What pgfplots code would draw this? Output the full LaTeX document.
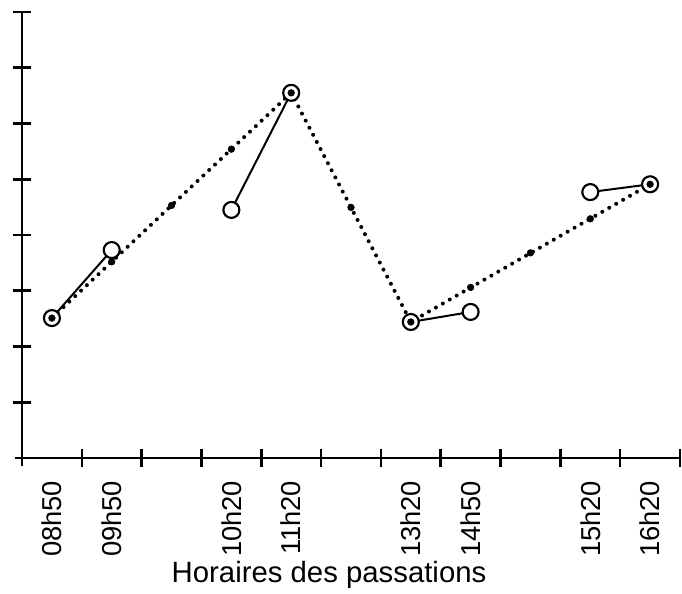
\documentclass[border=0pt]{standalone}
\usepackage{fontspec}
\setmainfont{Liberation Sans}
\usepackage{pgfplots}
\pgfplotsset{compat=1.18}
\begin{document}
\begin{tikzpicture}
\begin{axis}[
  scale only axis,
  width=493.5pt, height=334.5pt,
  xmin=0, xmax=11, ymin=0, ymax=8,
  clip=false,
  axis x line=bottom, axis y line=left,
  axis line style={-, line width=2.1pt, black},
  x axis line style={shorten <=-5pt},
  y axis line style={shorten <=-6pt},
  tick align=center,
  major tick length=13pt,
  tick style={line width=1.9pt, black},
  xtick={1,...,11}, xticklabels={},
  ytick={1,...,8}, yticklabels={},
  extra x ticks={0.5,1.5,3.5,4.5,6.5,7.5,9.5,10.5},
  extra x tick labels={08h50,09h50,10h20,11h20,13h20,14h50,15h20,16h20},
  extra x tick style={tick style={draw=none}},
  xticklabel style={rotate=90, anchor=east, inner sep=0pt, xshift=-10.5pt, font=\fontsize{20.5}{24}\selectfont},
  xlabel={Horaires des passations},
  xlabel style={at={(axis description cs:0.4666,-0.280)}, anchor=base, inner sep=0pt, font=\fontsize{22}{26}\selectfont},
]
% dotted trend line
\addplot[black, line width=3pt, line cap=round, dash pattern=on 0pt off 6pt] coordinates {
 (0.5,2.51) (4.5,6.55) (6.5,2.44) (10.5,4.91)
};
% solid segments
\addplot[black, line width=1.5pt] coordinates {(0.5,2.51) (1.5,3.73)};
\addplot[black, line width=1.5pt] coordinates {(3.5,4.45) (4.5,6.55)};
\addplot[black, line width=1.5pt] coordinates {(6.5,2.44) (7.5,2.62)};
\addplot[black, line width=1.5pt] coordinates {(9.5,4.77) (10.5,4.91)};
% open circles
\addplot[only marks, mark=*, mark size=6pt, mark options={draw=black, fill=white, line width=1.6pt}] coordinates {
 (0.5,2.51) (1.5,3.73) (3.5,4.45) (4.5,6.55) (6.5,2.44) (7.5,2.62) (9.5,4.77) (10.5,4.91)
};
% marks on the dotted line
\addplot[only marks, mark=*, mark size=2.5pt, black] coordinates {
 (0.5,2.51) (1.5,3.52) (2.5,4.53) (3.5,5.54) (4.5,6.55) (5.5,4.495) (6.5,2.44) (7.5,3.06) (8.5,3.68) (9.5,4.29) (10.5,4.91)
};
\end{axis}
\pgfresetboundingbox
\path (-16.5pt,-101.25pt) rectangle (495pt,343.5pt);
\end{tikzpicture}
\end{document}
